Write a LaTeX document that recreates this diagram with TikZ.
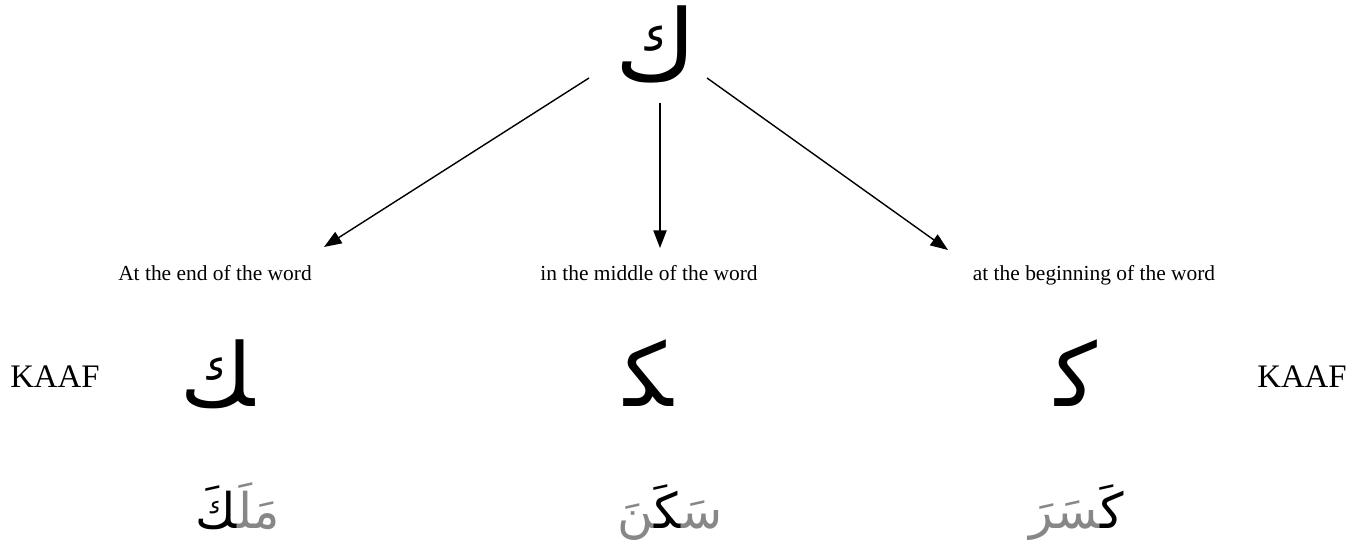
\documentclass[tikz,border=0pt]{standalone}
\usepackage{fontspec}
\setmainfont{Liberation Serif}
\newfontfamily\arabicfont[Script=Arabic]{DejaVu Sans}
\usetikzlibrary{arrows.meta}
\definecolor{faded}{gray}{0.53}
\newcommand{\jn}{^^^^200d}
\newcommand{\fd}[1]{{\color{faded}#1}}

\begin{document}
\begin{tikzpicture}[x=0.02cm, y=-0.02cm, >={Triangle[length=10pt,width=7.5pt]},
  bigletter/.style={font=\arabicfont\fontsize{56pt}{60pt}\selectfont, inner sep=0pt},
  letterform/.style={font=\arabicfont\fontsize{50pt}{54pt}\selectfont, inner sep=0pt, anchor=base},
  sampleword/.style={font=\arabicfont\fontsize{28pt}{32pt}\selectfont, inner sep=0pt, anchor=base},
  position/.style={font=\fontsize{12.2pt}{14pt}\selectfont, inner sep=0pt, anchor=base},
  kaafname/.style={font=\fontsize{18.7pt}{22pt}\selectfont, inner sep=0pt, anchor=base},
  arr/.style={->, line width=0.8pt}]
  \useasboundingbox (0,0) rectangle (1365,548);
  % the letter
  \node[bigletter] (kaf) at (656,44) {ك};
  % where it stands
  \node[position] (endpos) at (215,280) {At the end of the word};
  \node[position] (midpos) at (649,280) {in the middle of the word};
  \node[position] (begpos) at (1094,280) {at the beginning of the word};
  % its forms
  \node[letterform] (final) at (218,406) {\jn ك};
  \node[letterform] (medial) at (649,406) {\jn ك\jn};
  \node[letterform] (initial) at (1076,406) {ك\jn};
  \node[kaafname] (kaafL) at (55,387) {KAAF};
  \node[kaafname] (kaafR) at (1302,387) {KAAF};
  % sample words, pieces written left to right as seen
  \node[sampleword] (malak) at (238,528) {\jn كَ\fd{مَلَ\jn}};
  \node[sampleword] (sakan) at (670,528) {\fd{\jn نَ}\jn كَ\jn\fd{سَ\jn}};
  \node[sampleword] (kasar) at (1077,528) {\fd{\jn سَرَ}كَ\jn};
  % arrows
  \coordinate (fromL) at ([shift={(-67,34)}]kaf.center);
  \coordinate (fromM) at ([shift={(4,59)}]kaf.center);
  \coordinate (fromR) at ([shift={(51,34)}]kaf.center);
  \coordinate (toL) at ([shift={(109,-33)}]endpos.base);
  \coordinate (toM) at ([shift={(11,-32)}]midpos.base);
  \coordinate (toR) at ([shift={(-146,-30)}]begpos.base);
  \draw[arr] (fromL) -- (toL);
  \draw[arr] (fromM) -- (toM);
  \draw[arr] (fromR) -- (toR);
\end{tikzpicture}
\end{document}
